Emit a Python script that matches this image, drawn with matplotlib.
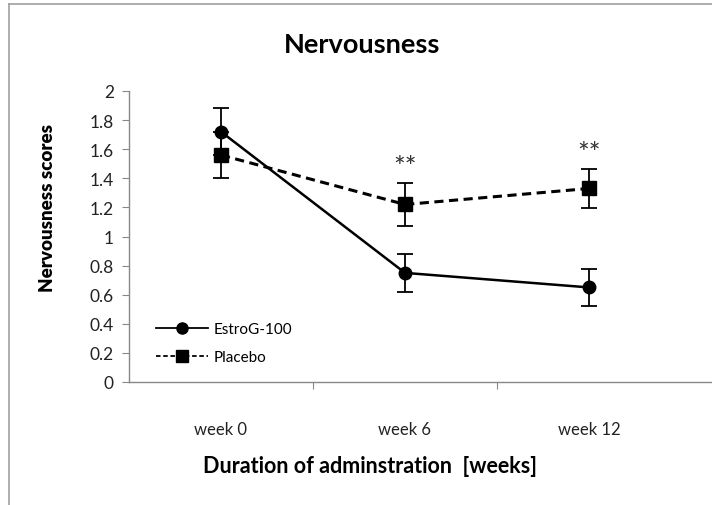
import matplotlib.pyplot as plt
from matplotlib.lines import Line2D

plt.rcParams['font.family'] = ['Lato', 'DejaVu Sans']

weeks = ['week 0', 'week 6', 'week 12']
estrog = [1.72, 0.75, 0.65]
estrog_err = [0.16, 0.13, 0.125]
placebo = [1.56, 1.22, 1.33]
placebo_err = [0.16, 0.15, 0.135]
star_y = [None, 1.47, 1.57]

fig = plt.figure(figsize=(7.12, 5.06), dpi=100)
ax = fig.add_axes([129 / 712, 1 - 383 / 506, 1 - 129 / 712, (383 - 92) / 506])

x = [1, 2, 3]
ax.errorbar(x, estrog, yerr=estrog_err, color='black', lw=1.8, marker='o',
            ms=9, capsize=6, elinewidth=1.3, capthick=1.3, label='EstroG-100')
ax.errorbar(x, placebo, yerr=placebo_err, color='black', lw=2.2, ls=(0, (3, 1.8)),
            marker='s', ms=9.5, capsize=6, elinewidth=1.3, capthick=1.3, label='Placebo')

for xi, yi in zip(x, star_y):
    if yi is not None:
        ax.text(xi, yi, '**', ha='center', va='center', fontsize=20, color='#333333')

ax.set_xlim(0.5, 0.5 + (712 - 129) / 184)
ax.set_ylim(0, 2)
ax.set_yticks([i / 5 for i in range(11)])
ax.set_yticklabels(['0', '0.2', '0.4', '0.6', '0.8', '1', '1.2', '1.4', '1.6', '1.8', '2'])
ax.set_xticks([1.5, 2.5])
ax.set_xticklabels([])
for xi, lab in zip(x, weeks):
    ax.text(xi, -0.32, lab, ha='center', va='center', fontsize=12, color='#222222',
            transform=ax.transData)
ax.tick_params(axis='y', direction='out', length=5, color='#888888', labelsize=12.5,
               pad=6, labelcolor='#222222')
ax.tick_params(axis='x', direction='out', length=5, color='#888888')

for side in ['top', 'right']:
    ax.spines[side].set_visible(False)
for side in ['left', 'bottom']:
    ax.spines[side].set_color('#888888')
    ax.spines[side].set_linewidth(1.0)

handles = [
    Line2D([], [], color='black', lw=1.3, marker='o', ms=8),
    Line2D([], [], color='black', lw=1.3, ls=(0, (2.5, 1.5)), marker='s', ms=8),
]
ax.legend(handles, ['EstroG-100', 'Placebo'], loc='lower left', bbox_to_anchor=(0.022, 0.015),
          frameon=False, fontsize=11, handlelength=3.4, labelspacing=0.9, handletextpad=0.4)

fig.text(362 / 712, 1 - 45 / 506, 'Nervousness', ha='center', va='center',
         fontsize=19.5, fontweight='bold')
fig.text(48 / 712, 1 - 208 / 506, 'Nervousness scores', ha='center', va='center',
         rotation=90, fontsize=13.5, fontweight='heavy')
fig.text(370 / 712, 1 - 467 / 506, 'Duration of adminstration  [weeks]', ha='center',
         va='center', fontsize=15.5, fontweight='bold')

# thin gray frame on the top and left edges
fig.add_artist(Line2D([9 / 712, 9 / 712], [0, 1 - 5 / 506], color='#a0a0a0', lw=1.2))
fig.add_artist(Line2D([9 / 712, 1], [1 - 5 / 506, 1 - 5 / 506], color='#a0a0a0', lw=1.2))

fig.savefig('out.png', dpi=100)
